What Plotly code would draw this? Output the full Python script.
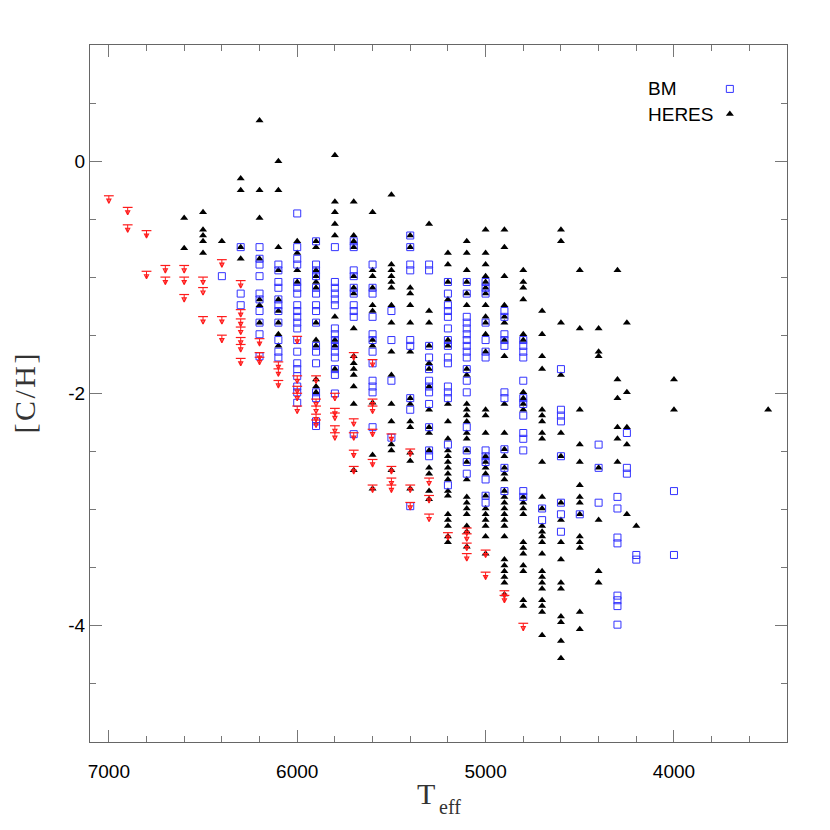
import plotly.graph_objects as go

# ---------------- data ----------------
# HERES detections (black filled triangles): Teff of each column, [C/H] values in it
heres_teff = [6600, 6500, 6400, 6300, 6200, 6100, 6000, 5900, 5800, 5700, 5600, 5500,
              5400, 5300, 5200, 5100, 5000, 4900, 4800, 4700, 4600, 4500, 4400, 4300,
              4250, 4200, 4000, 3500]
heres_ch = [
    [-0.49, -0.75],
    [-0.44, -0.59, -0.64, -0.69, -0.79],
    [-0.69],
    [-0.15, -0.25, -0.74, -0.84],
    [0.35, -0.25, -0.49, -0.84, -1.19, -1.24, -1.39],
    [0.0, -0.25, -0.74, -0.94, -1.19, -1.29, -1.39, -1.49, -1.59],
    [-0.69, -0.79, -0.94, -1.04],
    [-0.69, -0.74, -0.94, -0.99, -1.04, -1.09, -1.39, -1.54, -1.59, -1.88, -1.94, -1.99],
    [0.05, -0.35, -0.44, -0.54, -0.64, -1.34, -1.54, -1.59, -1.79],
    [-0.35, -0.64, -0.69, -0.74, -0.99, -1.09, -1.14, -1.44, -1.68, -1.74, -1.79, -1.84,
     -1.94, -2.09, -2.66],
    [-0.44, -0.94, -0.99, -1.09, -1.24, -1.29, -1.54, -1.59, -2.08, -2.53, -2.82],
    [-0.29, -0.89, -0.94, -0.99, -1.04, -1.09, -1.24, -1.39, -1.64, -1.84, -2.09, -2.24,
     -2.44, -2.49, -2.66],
    [-0.64, -0.74, -1.09, -1.14, -1.24, -1.39, -1.64, -2.04, -2.09, -2.24, -2.29, -2.51,
     -2.58, -2.82],
    [-0.54, -1.29, -1.39, -1.59, -1.74, -1.79, -1.94, -2.14, -2.29, -2.34, -2.49, -2.64,
     -2.69, -2.84, -2.91],
    [-0.79, -0.89, -1.04, -1.19, -1.54, -1.59, -2.09, -2.24, -2.39, -2.49, -2.54, -2.59,
     -2.64, -2.69, -2.74, -2.84, -2.88, -3.04, -3.09, -3.14, -3.23, -3.28],
    [-0.69, -0.79, -0.94, -1.04, -1.14, -1.24, -1.79, -1.84, -2.09, -2.14, -2.19, -2.24,
     -2.34, -2.39, -2.49, -2.59, -2.74, -2.89, -2.94, -2.99, -3.04, -3.14, -3.19, -3.32],
    [-0.59, -0.79, -0.89, -0.99, -1.04, -1.09, -1.14, -1.24, -1.34, -1.39, -1.49, -1.64,
     -2.14, -2.19, -2.34, -2.54, -2.59, -2.64, -2.69, -2.88, -2.99, -3.04, -3.09, -3.14,
     -3.23, -3.38],
    [-0.59, -0.74, -0.99, -1.24, -1.34, -1.39, -1.54, -1.68, -2.09, -2.34, -2.48, -2.54,
     -2.64, -2.69, -2.74, -2.84, -2.89, -2.94, -2.99, -3.04, -3.09, -3.14, -3.23, -3.43,
     -3.48, -3.53, -3.58, -3.63, -3.73],
    [-0.94, -1.04, -1.09, -1.19, -1.49, -1.54, -1.99, -2.04, -2.09, -2.14, -2.89, -2.94,
     -2.99, -3.04, -3.28, -3.33, -3.38, -3.48, -3.53, -3.78, -3.83],
    [-1.29, -1.49, -1.68, -1.79, -2.14, -2.19, -2.24, -2.34, -2.39, -2.59, -2.89, -2.99,
     -3.14, -3.19, -3.23, -3.28, -3.38, -3.53, -3.58, -3.63, -3.68, -3.78, -3.83, -3.88,
     -4.08],
    [-0.59, -0.69, -1.39, -1.84, -2.34, -2.54, -2.94, -3.09, -3.28, -3.43, -3.63, -3.68,
     -3.92, -3.97, -4.13, -4.28],
    [-0.94, -1.44, -2.14, -2.44, -2.59, -2.79, -2.89, -2.94, -3.04, -3.23, -3.28, -3.33,
     -3.88, -4.03],
    [-1.44, -1.64, -1.68, -2.64, -3.09, -3.53, -3.63],
    [-0.94, -1.88, -2.04, -2.29, -2.39, -2.59],
    [-1.39, -1.99, -2.29, -2.44, -3.04],
    [-3.14],
    [-1.88, -2.14],
    [-2.14],
]

# BM sample (blue open squares)
bm_teff = [6400, 6300, 6200, 6100, 6000, 5900, 5800, 5700, 5600, 5500, 5400, 5300, 5200,
           5100, 5000, 4900, 4800, 4700, 4600, 4500, 4400, 4300, 4250, 4200, 4000]
bm_ch = [
    [-0.99],
    [-0.74, -1.14, -1.24],
    [-0.74, -0.84, -0.89, -0.99, -1.14, -1.19, -1.29, -1.39, -1.49, -1.68],
    [-0.89, -0.94, -1.04, -1.09, -1.19, -1.24, -1.29, -1.39, -1.54, -1.64, -1.69],
    [-0.45, -0.74, -0.84, -0.89, -1.04, -1.09, -1.14, -1.24, -1.29, -1.34, -1.39, -1.44,
     -1.54, -1.64, -1.74, -1.79, -1.85, -1.94, -1.99, -2.08],
    [-0.69, -0.89, -0.94, -0.99, -1.09, -1.14, -1.24, -1.29, -1.39, -1.59, -1.64, -1.74,
     -1.99, -2.04, -2.24, -2.28],
    [-0.74, -1.04, -1.09, -1.14, -1.19, -1.24, -1.44, -1.49, -1.54, -1.59, -1.64, -1.69,
     -1.79, -1.84, -2.00],
    [-0.69, -0.74, -0.94, -0.99, -1.09, -1.14, -1.24, -1.29, -1.34, -2.35],
    [-0.89, -1.09, -1.14, -1.34, -1.49, -1.54, -1.64, -1.74, -1.89, -1.94, -1.99, -2.29],
    [-1.29, -1.54, -1.89, -2.38],
    [-0.64, -0.74, -0.89, -0.94, -1.54, -1.59, -2.04, -2.14, -2.97],
    [-0.89, -0.94, -1.59, -1.69, -1.79, -1.89, -1.94, -1.99, -2.09, -2.29, -2.49, -2.54],
    [-1.04, -1.14, -1.24, -1.29, -1.34, -1.44, -1.54, -1.59, -1.69, -1.74, -1.94, -1.99,
     -2.04, -2.44, -2.79],
    [-1.04, -1.14, -1.34, -1.39, -1.44, -1.49, -1.54, -1.59, -1.64, -1.69, -1.79, -1.89,
     -1.99, -2.29, -2.49, -2.59, -2.69],
    [-1.04, -1.09, -1.14, -1.39, -1.54, -1.64, -1.69, -2.49, -2.54, -2.59, -2.74, -2.88,
     -2.94],
    [-1.29, -1.34, -1.49, -1.54, -1.59, -1.99, -2.04, -2.48, -2.64, -2.84],
    [-1.54, -1.59, -1.64, -1.69, -1.89, -2.04, -2.09, -2.19, -2.34, -2.39, -2.49, -2.84,
     -2.89],
    [-2.99, -3.09],
    [-1.79, -2.14, -2.19, -2.24, -2.54, -2.94, -3.04, -3.19],
    [-3.04],
    [-2.44, -2.64, -2.94],
    [-2.89, -2.99, -3.24, -3.29, -3.74, -3.78, -3.83, -3.99],
    [-2.34, -2.64, -2.69],
    [-3.39, -3.43],
    [-2.84, -3.39],
]

# upper limits (red downward arrows)
ul_teff = [7000, 6900, 6800, 6700, 6600, 6500, 6400, 6300, 6200, 6100, 6000, 5900, 5800,
           5700, 5600, 5500, 5400, 5300, 5200, 5100, 5000, 4900, 4800]
ul_ch = [
    [-0.33],
    [-0.43, -0.58],
    [-0.63, -0.98],
    [-0.93, -1.03],
    [-0.93, -1.03, -1.18],
    [-1.03, -1.12, -1.37],
    [-0.88, -1.37, -1.53],
    [-1.06, -1.31, -1.39, -1.46, -1.55, -1.61, -1.73],
    [-1.56, -1.68, -1.72],
    [-1.76, -1.82, -1.92],
    [-1.54, -1.88, -1.97, -2.03, -2.14],
    [-1.88, -2.08, -2.14, -2.21, -2.26],
    [-2.03, -2.16, -2.20, -2.31, -2.37],
    [-1.68, -2.25, -2.37, -2.52, -2.66],
    [-1.74, -2.08, -2.14, -2.34, -2.60, -2.82],
    [-2.38, -2.66, -2.76, -2.82],
    [-2.51, -2.82, -2.97],
    [-2.76, -2.91, -3.07],
    [-3.23],
    [-3.19, -3.24, -3.32, -3.41],
    [-3.38, -3.57],
    [-3.73, -3.77],
    [-4.01],
]

x_tick_vals = [7000, 6000, 5000, 4000]
x_tick_text = ["7000", "6000", "5000", "4000"]
y_tick_vals = [0, -2, -4]
y_tick_text = ["0", "-2", "-4"]
legend_labels = ["BM", "HERES"]
x_title_main, x_title_sub = "T", "eff"
y_title = "[\u200aC\u200a/\u200aH\u200a]"


def flatten(cols, vals):
    xs, ys = [], []
    for t, vs in zip(cols, vals):
        for v in vs:
            xs.append(t)
            ys.append(v)
    return xs, ys


hx, hy = flatten(heres_teff, heres_ch)
bx, by = flatten(bm_teff, bm_ch)
ux, uy = flatten(ul_teff, ul_ch)

HALF = 0.032  # half height of the upper-limit arrow glyph, in data units
RED = "#ff1a1a"
BLUE = "#3333ff"
TRI = dict(symbol="triangle-up", size=7, color="black", line=dict(width=0))
SQ = dict(symbol="square-open", size=7, color=BLUE, line=dict(width=1, color=BLUE))

fig = go.Figure()

fig.add_trace(go.Scatter(x=hx, y=hy, mode="markers", name="HERES", marker=TRI,
                         showlegend=False))
fig.add_trace(go.Scatter(x=bx, y=by, mode="markers", name="BM", marker=SQ,
                         showlegend=False))
# upper limits: bar on top + stem (error bar) + arrow head
fig.add_trace(go.Scatter(
    x=ux, y=[v + HALF for v in uy], mode="markers", showlegend=False, name="upper limit",
    marker=dict(symbol="line-ew-open", size=7, color=RED, line=dict(width=1.2, color=RED)),
    error_y=dict(type="data", symmetric=False, array=[0] * len(uy),
                 arrayminus=[2 * HALF] * len(uy), color=RED, thickness=1, width=0),
    hoverinfo="skip",
))
fig.add_trace(go.Scatter(
    x=ux, y=[v - HALF for v in uy], mode="markers", showlegend=False, name="upper limit",
    marker=dict(symbol="arrow-down-open", size=4, color=RED, line=dict(width=1.2, color=RED)),
))

# legend keys (drawn right of the labels, as in the reference) on a hidden 0-1 overlay axis
KEY_X = 0.918
KEY_Y = [0.937, 0.901]
fig.add_trace(go.Scatter(x=[KEY_X], y=[KEY_Y[0]], xaxis="x2", yaxis="y2", mode="markers",
                         marker=SQ, showlegend=False, hoverinfo="skip"))
fig.add_trace(go.Scatter(x=[KEY_X], y=[KEY_Y[1]], xaxis="x2", yaxis="y2", mode="markers",
                         marker=TRI, showlegend=False, hoverinfo="skip"))

axis_common = dict(
    showline=True, linecolor="#666666", linewidth=1, mirror="ticks",
    ticks="inside", ticklen=12, tickcolor="#777777", tickwidth=1,
    showgrid=False, zeroline=False, automargin=False,
    tickfont=dict(family="Liberation Sans, Arial, sans-serif", size=19, color="black"),
)
SERIF = "Liberation Serif, DejaVu Serif, serif"
TITLE_FONT = dict(family=SERIF, size=30, color="#333333")
LABEL_FONT = dict(family="Liberation Sans, Arial, sans-serif", size=19, color="black")

# the page adds an 8 px body margin, so the figure is 822 px and margins are shifted
fig.update_layout(
    width=822, height=822,
    paper_bgcolor="white", plot_bgcolor="white",
    margin=dict(l=82, r=43, t=37, b=88, autoexpand=False),
    xaxis=dict(
        range=[7100, 3400], tickmode="array", tickvals=x_tick_vals, ticktext=x_tick_text,
        minor=dict(dtick=200, tick0=0, ticks="inside", ticklen=6, tickcolor="#777777"),
        ticklabelstandoff=12,
        **axis_common,
    ),
    yaxis=dict(
        range=[-5, 1], tickmode="array", tickvals=y_tick_vals, ticktext=y_tick_text,
        minor=dict(dtick=0.5, tick0=0, ticks="inside", ticklen=6, tickcolor="#777777"),
        ticklabelstandoff=0,
        title=dict(text=y_title, standoff=26, font=TITLE_FONT),
        **axis_common,
    ),
    xaxis2=dict(overlaying="x", range=[0, 1], visible=False, fixedrange=True),
    yaxis2=dict(overlaying="y", range=[0, 1], visible=False, fixedrange=True),
    showlegend=False,
    annotations=[
        dict(text=legend_labels[0], xref="paper", yref="paper", x=0.797, y=KEY_Y[0],
             xanchor="left", yanchor="middle", showarrow=False, font=LABEL_FONT),
        dict(text=legend_labels[1], xref="paper", yref="paper", x=0.797, y=KEY_Y[1],
             xanchor="left", yanchor="middle", showarrow=False, font=LABEL_FONT),
        # x-axis title: T with subscript eff
        dict(text=x_title_main, xref="paper", yref="paper", x=0.4985, y=-0.0745,
             xanchor="right", yanchor="middle", showarrow=False, font=TITLE_FONT),
        dict(text=x_title_sub, xref="paper", yref="paper", x=0.4985, y=-0.0935,
             xanchor="left", yanchor="middle", showarrow=False,
             font=dict(family=SERIF, size=20, color="#333333")),
    ],
)

fig.write_html("out.html")
